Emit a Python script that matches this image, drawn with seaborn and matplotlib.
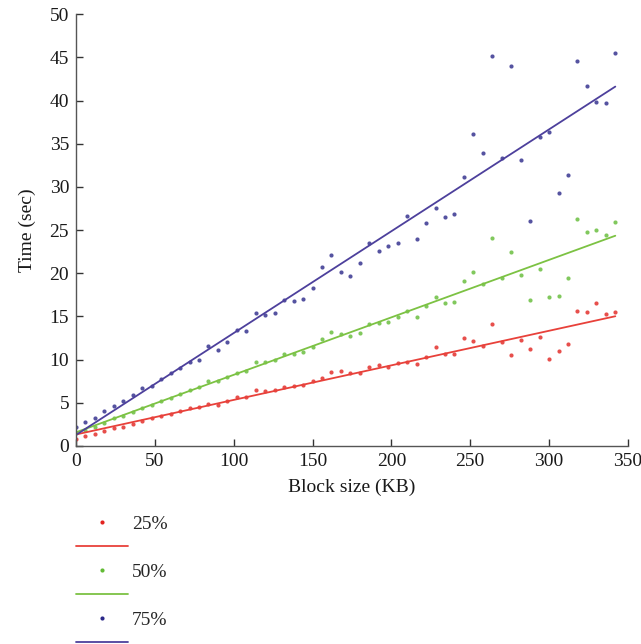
import numpy as np
import pandas as pd
import matplotlib.pyplot as plt
from matplotlib.lines import Line2D
import seaborn as sns

# block sizes (KB), one point every 6 KB
block_kb = list(range(0, 343, 6))

time_25 = [0.8, 1.2, 1.4, 1.7, 2.1, 2.2, 2.6, 2.9, 3.2, 3.5,
           3.7, 4.0, 4.35, 4.5, 4.9, 4.8, 5.2, 5.7, 5.7, 6.45,
           6.4, 6.5, 6.8, 6.9, 7.1, 7.5, 7.9, 8.6, 8.7, 8.5,
           8.5, 9.1, 9.4, 9.1, 9.65, 9.7, 9.5, 10.3, 11.5, 10.65,
           10.7, 12.45, 12.2, 11.6, 14.1, 12.0, 10.5, 12.3, 11.2, 12.6,
           10.1, 11.0, 11.8, 15.6, 15.5, 16.55, 15.3, 15.5]
time_50 = [1.5, 1.8, 2.2, 2.65, 3.2, 3.5, 3.9, 4.4, 4.7, 5.25,
           5.5, 6.0, 6.5, 6.8, 7.55, 7.5, 7.95, 8.5, 8.7, 9.7,
           9.75, 10.0, 10.6, 10.7, 10.85, 11.45, 12.4, 13.2, 12.95, 12.7,
           13.1, 14.1, 14.2, 14.3, 14.9, 15.6, 14.9, 16.2, 17.25, 16.5,
           16.7, 19.1, 20.1, 18.75, 24.1, 19.5, 22.45, 19.75, 16.9, 20.5,
           17.3, 17.4, 19.5, 26.3, 24.8, 25.0, 24.4, 25.9]
time_75 = [2.2, 2.8, 3.2, 4.0, 4.6, 5.2, 5.9, 6.7, 7.0, 7.8,
           8.5, 9.0, 9.7, 10.0, 11.6, 11.1, 12.0, 13.4, 13.3, 15.4,
           15.2, 15.4, 16.9, 16.8, 17.0, 18.3, 20.7, 22.1, 20.1, 19.7,
           21.2, 23.5, 22.6, 23.1, 23.5, 26.6, 24.0, 25.8, 27.5, 26.5,
           26.9, 31.2, 36.1, 33.9, 45.2, 33.4, 44.0, 33.1, 26.1, 35.8,
           36.3, 29.3, 31.4, 44.6, 41.7, 39.8, 39.7, 45.5]

series = ["25%", "50%", "75%"]
dot_colors = ["#e2231f", "#62bb35", "#2b2889"]
line_colors = ["#e8413a", "#7cc243", "#4d409c"]

sns.set_style("ticks")
plt.rcParams["font.family"] = ["Liberation Serif", "DejaVu Serif"]

df = pd.DataFrame({"block": block_kb * 3,
                   "time": time_25 + time_50 + time_75,
                   "level": np.repeat(series, len(block_kb))})

fig = plt.figure(figsize=(6.41, 6.44), dpi=100)
ax = fig.add_axes([0.1186, 0.3075, 0.861, 0.6705])

for lvl, dc, lc in zip(series, dot_colors, line_colors):
    sub = df[df["level"] == lvl]
    sns.regplot(data=sub, x="block", y="time", ax=ax, ci=None,
                scatter_kws={"s": 9, "color": dc, "linewidths": 0},
                line_kws={"color": lc, "lw": 1.3})

ax.set_xlim(0, 350)
ax.set_ylim(0, 50)
ax.set_xticks(range(0, 351, 50))
ax.set_yticks(range(0, 51, 5))
ax.tick_params(direction="in", length=5, width=1, colors="#333333",
               labelsize=14, labelcolor="#1a1a1a", pad=5)
for side in ["top", "right"]:
    ax.spines[side].set_visible(False)
for side in ["left", "bottom"]:
    ax.spines[side].set_color("#555555")
    ax.spines[side].set_linewidth(1)
ax.set_xlabel("Block size (KB)", fontsize=14, color="#1a1a1a", labelpad=6)
ax.set_ylabel("Time (sec)", fontsize=14, color="#1a1a1a", labelpad=10)

handles, labels = [], []
for lvl, dc, lc in zip(series, dot_colors, line_colors):
    handles.append(Line2D([], [], ls="none", marker="o", ms=3, color=dc,
                          markeredgewidth=0))
    labels.append(lvl)
    handles.append(Line2D([], [], color=lc, lw=1.3))
    labels.append("")
fig.legend(handles, labels, loc="upper left",
           bbox_to_anchor=(0.106, 0.212), frameon=False, fontsize=14,
           handlelength=2.7, handletextpad=0.2, labelspacing=0.33,
           borderaxespad=0)

plt.savefig("out.png", dpi=100)
